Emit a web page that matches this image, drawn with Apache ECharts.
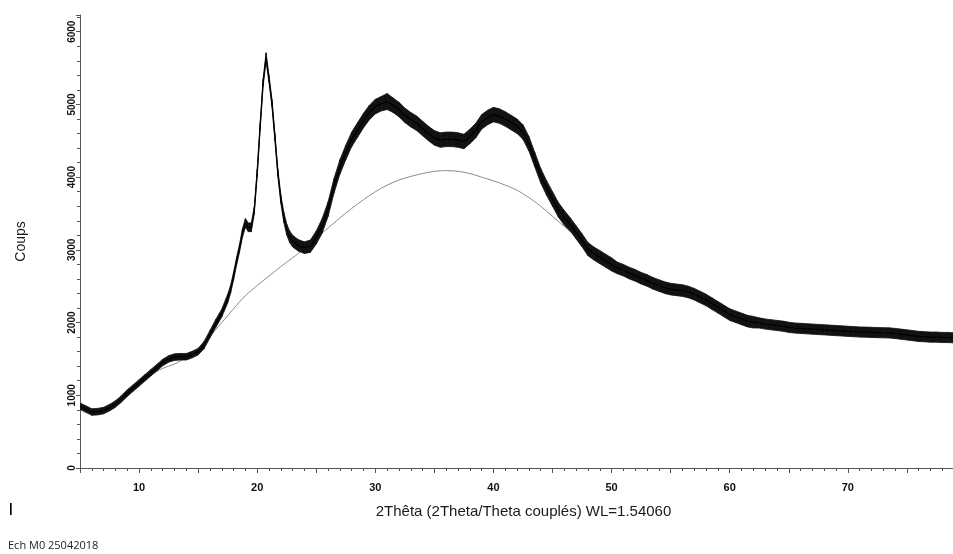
<!DOCTYPE html>
<html>
<head>
<meta charset="utf-8">
<script src="https://cdn.jsdelivr.net/npm/echarts/dist/echarts.min.js"></script>
<style>
html,body{margin:0;padding:0;background:#fff;}
#chart{width:953px;height:554px;}
</style>
</head>
<body>
<div id="chart"></div>
<script>
// 2Theta positions (degrees) at which the measured pattern was read
const twoTheta = [
  5,5.5,6,6.5,7,7.5,8,8.5,9,9.5,10,10.5,11,11.5,12,12.5,13,13.5,14,14.5,15,15.5,16,16.5,17,17.5,
  17.75,18,18.25,18.5,18.75,19,19.25,19.5,19.75,20,20.25,20.5,20.75,21,21.25,21.5,21.75,22,22.25,22.5,22.75,23,
  23.5,24,24.5,25,25.5,26,26.5,27,27.5,28,28.5,29,29.5,30,30.5,31,31.5,32,32.5,33,
  33.5,34,34.5,35,35.5,36,36.5,37,37.5,38,38.5,39,39.5,40,40.5,41,41.5,42,42.5,43,
  43.5,44,44.5,45,45.5,46,46.5,47,47.5,48,48.5,49,49.5,50,50.5,51,51.5,52,52.5,53,
  53.5,54,54.5,55,55.5,56,56.5,57,57.5,58,58.5,59,59.5,60,60.5,61,61.5,62,62.5,63,
  63.5,64,64.5,65,65.5,66,66.5,67,67.5,68,68.5,69,69.5,70,70.5,71,71.5,72,72.5,73,
  73.5,74,74.5,75,75.5,76,76.5,77,77.5,78,78.5,79
];
// mean counts of the measured pattern
const counts = [
  850,810,770,775,790,830,880,950,1030,1100,1170,1240,1310,1380,1450,1500,1525,1530,1530,1560,1600,1690,1840,1990,2130,2330,
  2460,2640,2840,3020,3230,3370,3310,3310,3540,4060,4700,5300,5650,5350,5020,4550,4060,3700,3450,3280,3180,3120,
  3060,3030,3050,3170,3330,3560,3880,4140,4340,4520,4650,4780,4890,4970,5010,5040,4990,4930,4850,4790,
  4740,4670,4600,4540,4510,4520,4520,4510,4490,4560,4640,4760,4820,4860,4840,4800,4750,4700,4620,4460,
  4240,4020,3850,3700,3550,3440,3350,3240,3130,3010,2950,2900,2850,2800,2750,2720,2680,2650,2610,2580,
  2540,2510,2480,2460,2450,2440,2420,2390,2350,2310,2260,2210,2160,2110,2080,2050,2020,2005,1995,1980,
  1970,1960,1950,1935,1925,1920,1915,1910,1905,1900,1895,1890,1885,1880,1875,1870,1868,1865,1862,1860,
  1858,1850,1840,1830,1820,1810,1805,1800,1800,1795,1795,1790
];
// half height of the visible noise band around the mean (counts)
const noiseHalf = [
  45,45,45,45,45,45,45,45,45,45,45,45,45,45,45,45,45,45,45,45,45,50,50,55,55,60,
  55,55,55,55,60,60,60,60,50,50,50,50,60,50,50,50,50,60,70,75,80,80,
  80,80,85,90,100,100,100,100,100,100,100,100,100,100,100,110,100,100,100,100,
  100,100,100,100,100,100,100,100,100,100,100,100,100,100,100,100,100,100,100,100,
  100,100,100,100,100,100,90,90,90,90,90,90,90,90,80,80,80,80,80,80,
  80,80,80,80,80,80,80,80,80,80,80,80,80,80,80,80,80,80,70,70,
  70,70,70,70,70,70,70,70,70,70,70,70,70,70,70,70,70,70,70,70,
  70,70,70,70,70,70,70,70,70,70,70,70
];
// fitted amorphous background (grey curve)
const bgTheta = [5,6,7,8,9,10,11,12,13,14,15,16,17,18,19,20,21,22,23,24,25,26,27,28,29,30,31,32,33,34,35,36,37,38,39,40,
  41,42,43,44,45,46,47,48,49,50,51,52,53,54,55,56,57,58,59,60,61,62,63,64,65,66,67,68,69,70,71,72,73,74,75,76,77,78,79];
const bgCounts = [850,790,790,870,1000,1150,1280,1370,1430,1520,1640,1810,2000,2190,2370,2510,2640,2770,2890,3020,
  3170,3300,3440,3570,3690,3800,3890,3960,4010,4050,4080,4090,4080,4050,4000,3950,3890,3820,3720,3600,3460,3320,
  3180,3020,2890,2780,2700,2630,2560,2500,2440,2380,2330,2270,2190,2110,2040,1995,1970,1955,1935,1920,1910,1900,
  1890,1880,1870,1865,1860,1850,1830,1810,1800,1795,1790];

const xLabelsShown = [10,20,30,40,50,60,70];
const yLabelsShown = [0,1000,2000,3000,4000,5000,6000];

// band segments between consecutive readings: [x0, lo0, hi0, x1, lo1, hi1]
const bandSegments = twoTheta.slice(0, -1).map((x, i) => [
  x, counts[i] - noiseHalf[i], counts[i] + noiseHalf[i],
  twoTheta[i + 1], counts[i + 1] - noiseHalf[i + 1], counts[i + 1] + noiseHalf[i + 1]
]);
const meanData = twoTheta.map((x, i) => [x, counts[i]]);
const bgData = bgTheta.map((x, i) => [x, bgCounts[i]]);

const axisColor = '#555';
const font = 'Liberation Sans, Arial, sans-serif';
const chart = echarts.init(document.getElementById('chart'), null, {renderer: 'canvas'});
chart.setOption({
  animation: false,
  backgroundColor: '#fff',
  grid: {left: 80, right: 0, top: 15, bottom: 86, containLabel: false, outerBoundsMode: 'none'},
  xAxis: {
    type: 'value', min: 5, max: 78.9, interval: 5,
    name: '2Thêta (2Theta/Theta couplés) WL=1.54060',
    nameLocation: 'middle', nameGap: 36,
    nameTextStyle: {fontFamily: font, fontSize: 15, color: '#1a1a1a', padding: [0, 0, 0, 14]},
    axisLine: {show: true, onZero: false, lineStyle: {color: axisColor, width: 1}},
    axisTick: {show: true, inside: false, length: 5, lineStyle: {color: axisColor}},
    minorTick: {show: true, splitNumber: 5, length: 3, lineStyle: {color: axisColor}},
    splitLine: {show: false},
    axisLabel: {
      margin: 14, fontFamily: font, fontSize: 11, fontWeight: 'bold', color: '#111',
      formatter: v => xLabelsShown.indexOf(v) >= 0 ? String(v) : ''
    }
  },
  yAxis: {
    type: 'value', min: 0, max: 6230, interval: 1000,
    name: 'Coups', nameLocation: 'middle', nameGap: 52, nameRotate: 90,
    nameTextStyle: {fontFamily: font, fontSize: 14, color: '#1a1a1a'},
    axisLine: {show: true, onZero: false, lineStyle: {color: axisColor, width: 1}},
    axisTick: {show: true, inside: false, length: 4, lineStyle: {color: axisColor}},
    minorTick: {show: true, splitNumber: 5, length: 3, lineStyle: {color: axisColor}},
    splitLine: {show: false},
    axisLabel: {
      rotate: 90, margin: 3, fontFamily: font, fontSize: 10, fontWeight: 'bold', color: '#111',
      formatter: v => yLabelsShown.indexOf(v) >= 0 ? String(v) : ''
    }
  },
  series: [
    {
      type: 'line', data: bgData, symbol: 'none', smooth: 0.3, z: 1,
      lineStyle: {color: '#8c8c8c', width: 1}, silent: true
    },
    {
      type: 'custom', data: bandSegments, clip: true, z: 2, silent: true,
      encode: {x: [0, 3], y: [1, 2, 4, 5]},
      renderItem: (params, api) => {
        const a = api.coord([api.value(0), api.value(1)]);
        const b = api.coord([api.value(3), api.value(4)]);
        const c = api.coord([api.value(3), api.value(5)]);
        const d = api.coord([api.value(0), api.value(2)]);
        return {
          type: 'polygon',
          shape: {points: [a, b, c, d]},
          style: {fill: '#111', stroke: '#111', lineWidth: 0.8}
        };
      }
    },
    {
      type: 'line', data: meanData, symbol: 'none', z: 3,
      lineStyle: {color: '#000', width: 1.2}, silent: true
    }
  ],
  graphic: [
    {type: 'text', left: 9, top: 502, style: {text: '|', font: 'bold 13px "Liberation Sans", Arial, sans-serif', fill: '#000'}},
    {type: 'text', left: 8, top: 540, style: {text: 'Ech M0 25042018', font: '11px "Open Sans", sans-serif', fill: '#222'}}
  ]
});
</script>
</body>
</html>
